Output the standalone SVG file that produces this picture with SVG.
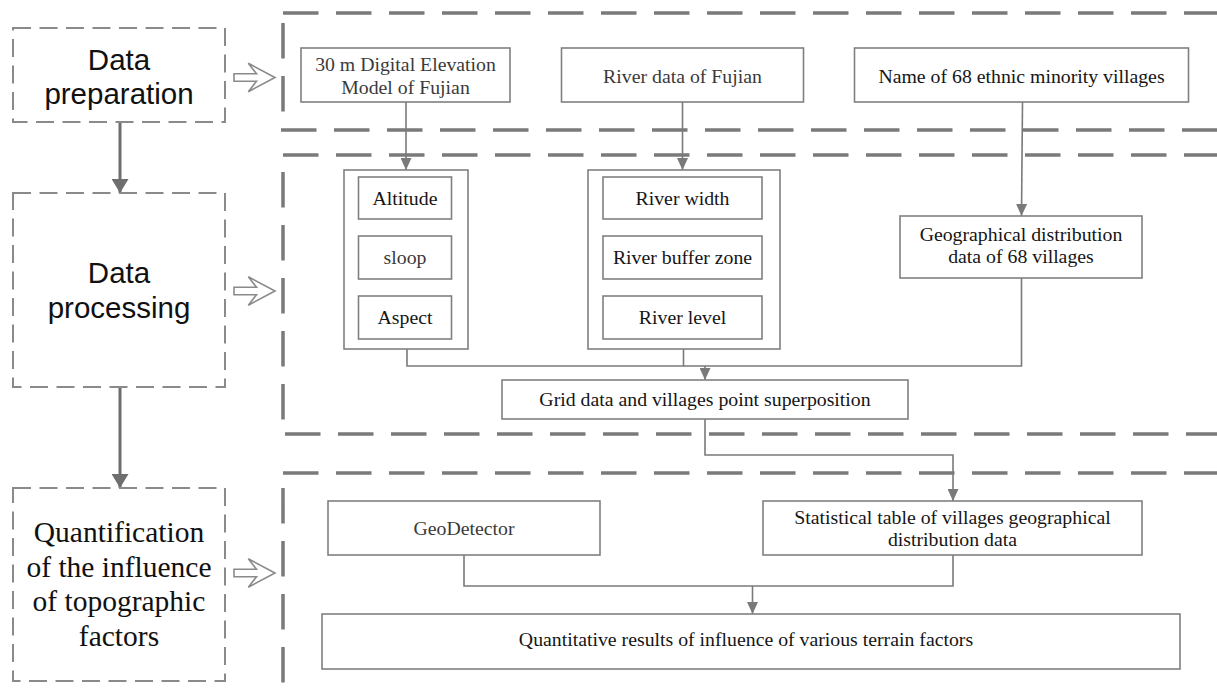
<svg xmlns="http://www.w3.org/2000/svg" width="1217" height="696" viewBox="0 0 1217 696">
<style>
.bg{fill:#fff}
.sec{fill:none;stroke:#7a7a7a;stroke-width:3.5;stroke-dasharray:35.5 17.5}
.stage{fill:#fff;stroke:#8a8a8a;stroke-width:2;stroke-dasharray:18 8.5}
.hollow{fill:#fff;stroke:#8a8a8a;stroke-width:1.6;stroke-linejoin:miter}
.box{fill:#fff;stroke:#808080;stroke-width:1.6}
.t{font-family:"Liberation Serif","Times New Roman",serif;font-size:19.8px;fill:#151515;text-anchor:middle}
.tl{fill:#3a3a3a}
.st{font-family:"Liberation Sans",Arial,sans-serif;font-size:29.5px;fill:#111;text-anchor:middle}
.qt{font-family:"Liberation Serif","Times New Roman",serif;font-size:29.5px;fill:#111;text-anchor:middle}
.c{fill:none;stroke:#7a7a7a;stroke-width:1.6}
.cb{fill:none;stroke:#6e6e6e;stroke-width:3}
</style>
<defs>
<marker id="ah" markerUnits="userSpaceOnUse" markerWidth="12" markerHeight="11" refX="12" refY="5.5" orient="auto">
<path d="M0,0 L12,5.5 L0,11 Z" fill="#7a7a7a"/>
</marker>
<marker id="ahb" markerUnits="userSpaceOnUse" markerWidth="14" markerHeight="17" refX="14" refY="8.5" orient="auto">
<path d="M0,0 L14,8.5 L0,17 Z" fill="#6e6e6e"/>
</marker>
</defs>
<rect class="bg" x="0" y="0" width="1217" height="696"/>

<g id="sections">
<line class="sec" x1="283" y1="13" x2="1217" y2="13"/>
<line class="sec" x1="283" y1="23" x2="283" y2="113"/>
<line class="sec" x1="281" y1="130" x2="1217" y2="130"/>
<line class="sec" x1="283" y1="155" x2="1217" y2="155"/>
<line class="sec" x1="283" y1="172" x2="283" y2="420"/>
<line class="sec" x1="285" y1="434" x2="1217" y2="434"/>
<line class="sec" x1="283" y1="473" x2="1217" y2="473"/>
<line class="sec" x1="283" y1="488" x2="283" y2="683"/>
</g>

<g id="connectors">
<path class="cb" d="M120,122 V193" marker-end="url(#ahb)"/>
<path class="cb" d="M120,387 V488" marker-end="url(#ahb)"/>
<path class="c" d="M406,102 V170" marker-end="url(#ah)"/>
<path class="c" d="M682.5,102 V170" marker-end="url(#ah)"/>
<path class="c" d="M1022.5,102 L1021.5,216" marker-end="url(#ah)"/>
<path class="c" d="M407,349 V366 H1021.5 V278"/>
<path class="c" d="M683.5,349 V366"/>
<path class="c" d="M705,366 V380" marker-end="url(#ah)"/>
<path class="c" d="M705,419 V455 H953 V501" marker-end="url(#ah)"/>
<path class="c" d="M464,555 V586 H953 V555"/>
<path class="c" d="M752.5,586 V614" marker-end="url(#ah)"/>
</g>

<g id="stage-preparation">
<rect class="stage" x="13" y="28" width="212" height="94"/>
<text class="st" x="119" y="70">Data</text>
<text class="st" x="119" y="104">preparation</text>
</g>
<g id="stage-processing">
<rect class="stage" x="13" y="193" width="212" height="194"/>
<text class="st" x="119" y="283">Data</text>
<text class="st" x="119" y="318">processing</text>
</g>
<g id="stage-quantification">
<rect class="stage" x="13" y="488" width="212" height="193"/>
<text class="qt" x="119" y="542">Quantification</text>
<text class="qt" x="119" y="576.5">of the influence</text>
<text class="qt" x="119" y="611">of topographic</text>
<text class="qt" x="119" y="645.5">factors</text>
</g>

<g id="hollow-arrows">
<polygon class="hollow" points="234,73.7 256.5,73.7 248.3,63.3 275,77.5 248.3,91.7 256.5,81.3 234,81.3"/>
<polygon class="hollow" points="234,287.2 256.5,287.2 248.3,276.8 275,291 248.3,305.2 256.5,294.8 234,294.8"/>
<polygon class="hollow" points="234,569.2 256.5,569.2 248.3,558.8 275,573 248.3,587.2 256.5,576.8 234,576.8"/>
</g>

<g id="node-dem">
<rect class="box" x="301" y="48" width="209" height="54"/>
<text class="t tl" x="405.5" y="71">30 m Digital Elevation</text>
<text class="t tl" x="405.5" y="93.5">Model of Fujian</text>
</g>
<g id="node-river-data">
<rect class="box" x="561.5" y="48" width="242" height="54"/>
<text class="t tl" x="682.5" y="83">River data of Fujian</text>
</g>
<g id="node-names">
<rect class="box" x="854.5" y="48" width="334" height="54"/>
<text class="t" x="1021.5" y="83">Name of 68 ethnic minority villages</text>
</g>

<g id="node-terrain-group">
<rect class="box" x="344" y="170" width="124" height="179"/>
</g>
<g id="node-altitude">
<rect class="box" x="358.5" y="177" width="93" height="42"/>
<text class="t" x="405" y="204.5">Altitude</text>
</g>
<g id="node-sloop">
<rect class="box" x="358.5" y="236" width="93" height="43"/>
<text class="t tl" x="405" y="264">sloop</text>
</g>
<g id="node-aspect">
<rect class="box" x="358.5" y="296" width="93" height="43"/>
<text class="t" x="405" y="324">Aspect</text>
</g>

<g id="node-river-group">
<rect class="box" x="588" y="170" width="192" height="179"/>
</g>
<g id="node-river-width">
<rect class="box" x="603" y="177" width="159" height="42"/>
<text class="t" x="682.5" y="204.5">River width</text>
</g>
<g id="node-river-buffer">
<rect class="box" x="603" y="236" width="159" height="43"/>
<text class="t" x="682.5" y="264">River buffer zone</text>
</g>
<g id="node-river-level">
<rect class="box" x="603" y="296" width="159" height="43"/>
<text class="t" x="682.5" y="324">River level</text>
</g>

<g id="node-geo-distribution">
<rect class="box" x="900" y="216" width="242" height="62"/>
<text class="t" x="1021" y="240.5">Geographical distribution</text>
<text class="t" x="1021" y="263">data of 68 villages</text>
</g>
<g id="node-grid">
<rect class="box" x="502" y="380" width="406" height="39"/>
<text class="t" x="705" y="406">Grid data and villages point superposition</text>
</g>

<g id="node-geodetector">
<rect class="box" x="328" y="501" width="272" height="54"/>
<text class="t tl" x="464" y="535">GeoDetector</text>
</g>
<g id="node-statistical">
<rect class="box" x="763" y="501" width="379" height="54"/>
<text class="t" x="952.5" y="523.5">Statistical table of villages geographical</text>
<text class="t" x="952.5" y="546">distribution data</text>
</g>
<g id="node-results">
<rect class="box" x="322" y="614" width="858" height="55"/>
<text class="t" x="746" y="646">Quantitative results of influence of various terrain factors</text>
</g>
</svg>
